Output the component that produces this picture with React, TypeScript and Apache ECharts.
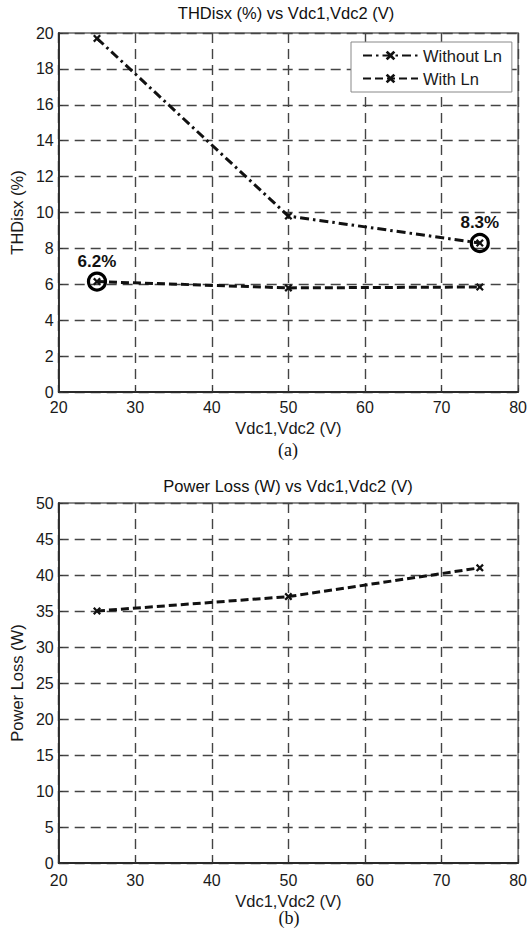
import React, { useEffect, useRef } from "react";
import * as echarts from "echarts";

const withoutLn: [number, number][] = [[25, 19.7], [50, 9.8], [75, 8.3]];
const withLn: [number, number][] = [[25, 6.15], [50, 5.8], [75, 5.85]];
const highlights: [number, number, string][] = [[25, 6.15, "6.2%"], [75, 8.3, "8.3%"]];
const powerLoss: [number, number][] = [[25, 35], [50, 37], [75, 41]];

const FONT = "'Liberation Sans', Arial, sans-serif";
const SERIF = "'Liberation Serif', 'Times New Roman', serif";
const XMARK = "path://M0,2L2,0L5,3L8,0L10,2L7,5L10,8L8,10L5,7L2,10L0,8L3,5Z";

export default function App() {
  const ref = useRef<HTMLDivElement>(null);
  useEffect(() => {
    if (!ref.current) return;
    const chart = echarts.init(ref.current, undefined, { renderer: "svg" });
    const axisLine = { show: true, lineStyle: { color: "#2a2a2a", width: 1.8 } };
    const splitLine = { show: true, lineStyle: { color: "#444", width: 1.4, type: [10, 6] as any } };
    const axisTick = { show: true, inside: true, length: 4, lineStyle: { color: "#333" } };
    const label = (margin: number) => ({ fontSize: 16, color: "#1a1a1a", fontFamily: FONT, margin });
    const nameStyle = { fontSize: 16.5, color: "#1a1a1a", fontFamily: FONT };
    const lineCommon = {
      type: "line" as const,
      symbol: XMARK,
      symbolSize: 8,
      itemStyle: { color: "#111", opacity: 1 },
      z: 3,
    };
    chart.setOption({
      animation: false,
      backgroundColor: "#fff",
      textStyle: { fontFamily: FONT },
      grid: [
        { left: 57, top: 33, width: 462, height: 359, show: true, borderColor: "#666", borderWidth: 1.5, backgroundColor: "transparent" },
        { left: 56, top: 503, width: 467, height: 360, show: true, borderColor: "#666", borderWidth: 1.5, backgroundColor: "transparent" },
      ],
      xAxis: [
        {
          gridIndex: 0, type: "value", min: 20, max: 80, interval: 10,
          axisLine, splitLine, axisTick, axisLabel: label(7),
          name: "Vdc1,Vdc2 (V)", nameLocation: "middle", nameGap: 27, nameTextStyle: nameStyle,
        },
        {
          gridIndex: 1, type: "value", min: 20, max: 80, interval: 10,
          axisLine, splitLine, axisTick, axisLabel: label(9),
          name: "Vdc1,Vdc2 (V)", nameLocation: "middle", nameGap: 29, nameTextStyle: nameStyle,
        },
      ],
      yAxis: [
        {
          gridIndex: 0, type: "value", min: 0, max: 20, interval: 2,
          axisLine, splitLine, axisTick, axisLabel: label(5),
          name: "THDisx (%)", nameLocation: "middle", nameGap: 31, nameTextStyle: nameStyle,
        },
        {
          gridIndex: 1, type: "value", min: 0, max: 50, interval: 5,
          axisLine, splitLine, axisTick, axisLabel: label(5),
          name: "Power Loss (W)", nameLocation: "middle", nameGap: 31, nameTextStyle: nameStyle,
        },
      ],
      legend: {
        data: ["Without Ln", "With Ln"],
        orient: "vertical",
        left: 351,
        top: 42,
        backgroundColor: "#fff",
        borderColor: "#888",
        borderWidth: 1,
        borderRadius: 0,
        padding: [5, 10, 5, 11],
        itemGap: 6,
        itemWidth: 55,
        itemHeight: 12,
        textStyle: { fontSize: 16.5, color: "#1a1a1a", fontFamily: FONT },
      },
      series: [
        {
          ...lineCommon, name: "Without Ln", xAxisIndex: 0, yAxisIndex: 0,
          data: withoutLn,
          lineStyle: { color: "#111", width: 3, type: [9, 4, 2.5, 4] },
        },
        {
          ...lineCommon, name: "With Ln", xAxisIndex: 0, yAxisIndex: 0,
          data: withLn,
          lineStyle: { color: "#111", width: 3, type: [8, 4] },
        },
        {
          type: "scatter", name: "highlight", xAxisIndex: 0, yAxisIndex: 0,
          data: highlights,
          symbol: "circle", symbolSize: 17, z: 4,
          itemStyle: { color: "transparent", borderColor: "#000", borderWidth: 3.2, opacity: 1 },
          label: {
            show: true, position: "top", distance: 2,
            formatter: (p: any) => p.value[2],
            fontSize: 17, fontWeight: "bold", color: "#111", fontFamily: FONT,
          },
        },
        {
          ...lineCommon, name: "Power Loss", xAxisIndex: 1, yAxisIndex: 1,
          data: powerLoss,
          lineStyle: { color: "#111", width: 3, type: [8, 4] },
        },
      ],
      graphic: [
        { type: "text", x: 286, y: 13, style: { text: "THDisx (%) vs Vdc1,Vdc2 (V)", fontSize: 16.5, fill: "#111", fontFamily: FONT, textAlign: "center", textVerticalAlign: "middle" } },
        { type: "text", x: 288, y: 450, style: { text: "(a)", fontSize: 18, fill: "#111", fontFamily: SERIF, textAlign: "center", textVerticalAlign: "middle" } },
        { type: "text", x: 288, y: 486, style: { text: "Power Loss (W) vs Vdc1,Vdc2 (V)", fontSize: 16.5, fill: "#111", fontFamily: FONT, textAlign: "center", textVerticalAlign: "middle" } },
        { type: "text", x: 289, y: 918, style: { text: "(b)", fontSize: 18, fill: "#111", fontFamily: SERIF, textAlign: "center", textVerticalAlign: "middle" } },
      ],
    });
    return () => chart.dispose();
  }, []);
  return <div ref={ref} style={{ position: "fixed", left: 0, top: 0, width: 530, height: 934 }} />;
}
